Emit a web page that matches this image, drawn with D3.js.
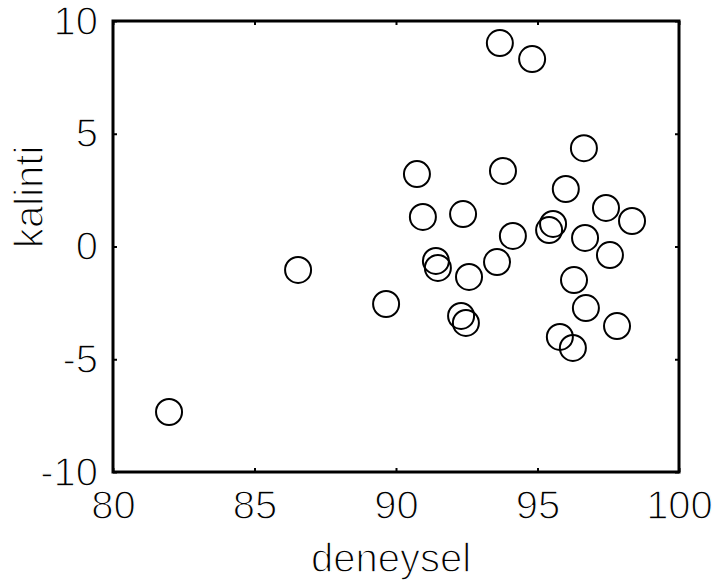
<!DOCTYPE html>
<html>
<head>
<meta charset="utf-8">
<script src="https://cdn.jsdelivr.net/npm/d3@7"></script>
<style>
  html, body { margin: 0; padding: 0; background: #fff; }
  svg { display: block; }
  text { font-family: "Liberation Sans", Arial, sans-serif; fill: #000; }
</style>
</head>
<body>
<svg id="chart" width="715" height="587"></svg>
<script>
// Experimental value (deneysel) vs residual (kalinti)
const deneysel = [81.98, 86.54, 89.65, 90.74, 90.95, 91.41, 91.48, 92.37, 92.30, 92.47,
                  92.58, 93.67, 94.81, 93.78, 93.57, 94.13, 95.55, 95.41, 96.00, 96.64,
                  96.29, 96.68, 96.71, 95.79, 96.25, 97.42, 97.56, 97.81, 98.34];
const kalinti  = [-7.34, -1.04, -2.55, 3.21, 1.31, -0.64, -0.95, 1.44, -3.08, -3.39,
                  -1.35, 9.02, 8.31, 3.35, -0.69, 0.47, 1.00, 0.73, 2.55, 4.36,
                  -1.49, 0.38, -2.73, -4.01, -4.50, 1.71, -0.38, -3.53, 1.13];
const xTicks = [80, 85, 90, 95, 100];
const yTicks = [-10, -5, 0, 5, 10];

const svg = d3.select("#chart");
const plotL = 113, plotR = 679, plotT = 21, plotB = 472;

const x = d3.scaleLinear().domain([80, 100]).range([plotL, plotR]);
const y = d3.scaleLinear().domain([-10, 10]).range([plotB, plotT]);

const fontSize = 40;
const tickLen = 4;
const fmt = d => String(d);   // plain hyphen for negatives

// inward ticks on all four sides
const bottomAxis = d3.axisBottom(x).tickValues(xTicks).tickSizeInner(-tickLen).tickSizeOuter(0).tickFormat(fmt);
const topAxis = d3.axisTop(x).tickValues(xTicks).tickSizeInner(-tickLen).tickSizeOuter(0).tickFormat("");
const leftAxis = d3.axisLeft(y).tickValues(yTicks).tickSizeInner(-tickLen).tickSizeOuter(0).tickFormat(fmt);
const rightAxis = d3.axisRight(y).tickValues(yTicks).tickSizeInner(-tickLen).tickSizeOuter(0).tickFormat("");

// thin glyphs: a white outline over the fill trims the stroke weight
function thinText(sel) {
  sel.style("font-family", '"Liberation Sans", Arial, sans-serif')
    .style("font-size", fontSize + "px")
    .attr("fill", "#000")
    .attr("stroke", "#fff")
    .attr("stroke-width", 1.3);
}

function style(g) {
  g.select(".domain").remove();
  g.selectAll(".tick line").attr("stroke", "#000").attr("stroke-width", 2);
  g.selectAll(".tick text").call(thinText);
}

svg.append("g").attr("transform", `translate(0,${plotB})`).call(bottomAxis).call(style)
  .selectAll(".tick text").attr("y", 47).attr("dy", 0);
svg.append("g").attr("transform", `translate(0,${plotT})`).call(topAxis).call(style);
svg.append("g").attr("transform", `translate(${plotL},0)`).call(leftAxis).call(style)
  .selectAll(".tick text").attr("x", -15).attr("y", 13).attr("dy", 0);
svg.append("g").attr("transform", `translate(${plotR},0)`).call(rightAxis).call(style);

// plot frame
svg.append("rect")
  .attr("x", plotL).attr("y", plotT)
  .attr("width", plotR - plotL).attr("height", plotB - plotT)
  .attr("fill", "none").attr("stroke", "#000").attr("stroke-width", 3);

// open circle markers
svg.append("g").selectAll("circle")
  .data(deneysel.map((d, i) => [d, kalinti[i]]))
  .join("circle")
  .attr("cx", d => x(d[0]))
  .attr("cy", d => y(d[1]))
  .attr("r", 13)
  .attr("fill", "none")
  .attr("stroke", "#000")
  .attr("stroke-width", 2);

// axis titles
svg.append("text")
  .attr("x", 391).attr("y", 572)
  .attr("text-anchor", "middle")
  .call(thinText)
  .text("deneysel");

svg.append("text")
  .attr("transform", `translate(43,248) rotate(-90)`)
  .attr("text-anchor", "start")
  .call(thinText)
  .text("kalinti");
</script>
</body>
</html>
